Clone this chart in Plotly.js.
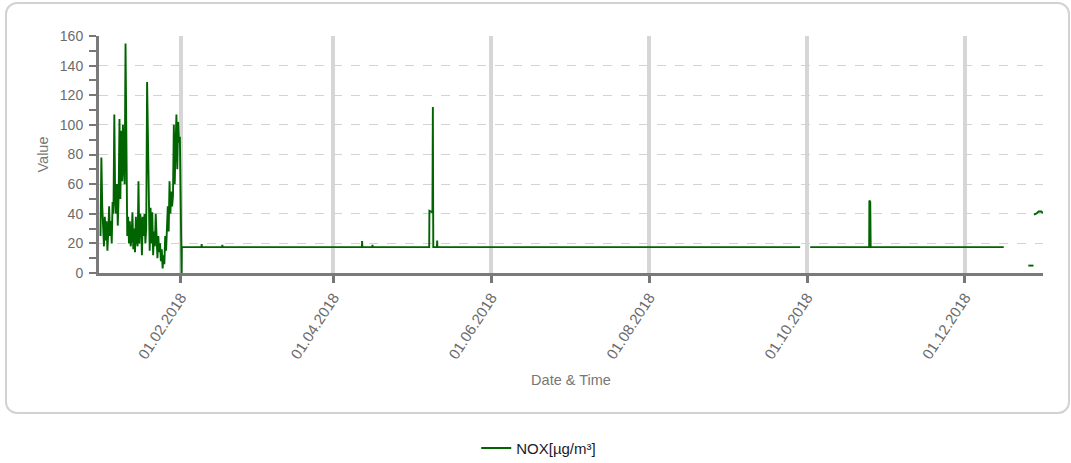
<!DOCTYPE html>
<html>
<head>
<meta charset="utf-8">
<script src="https://cdn.plot.ly/plotly-3.0.1.min.js"></script>
<style>
  html, body { margin: 0; padding: 0; background: #ffffff; }
  #wrap { position: relative; width: 1071px; height: 463px; }
  #frame { position: absolute; left: 5px; top: 2px; width: 1061px; height: 408px;
           border: 2px solid #d2d2d2; border-radius: 12px; pointer-events: none; }
  #chart { position: absolute; left: 0; top: 0; width: 1071px; height: 463px; }
</style>
</head>
<body>
<div id="wrap">
  <div id="frame"></div>
  <div id="chart"></div>
</div>
<script>
// ---- Data ----
const seriesName = 'NOX[µg/m³]';

// January 2018: readings every 8 hours starting 2018-01-01 00:00
const janStart = '2018-01-01T00:00:00';
const janStepHours = 8;
const janValues = [
  25, 78, 45,   30, 18, 38,   22, 35, 15,   28, 45, 25,   35, 20, 48,
  40, 107, 50,  40, 60, 32,   52, 104, 50,  96, 62, 100,  70, 60, 155,
  48, 25, 38,   20, 35, 18,   24, 41, 16,   30, 14, 38,   22, 18, 62,
  20, 40, 35,   12, 38, 25,   40, 20, 30,   129, 81, 25,  15, 44, 20,
  41, 12, 28,   18, 40, 22,   10, 25, 14,   20, 8, 16,    3, 12, 6,
  25, 15, 30,   45, 28, 62,   40, 55, 45,   52, 100, 60,  85, 107, 70,
  102, 88, 92
];

// Rest of the year: readings at the times where the value changes
const restDates = [
  '2018-02-01 08:00', '2018-02-01 10:00',
  '2018-02-09 00:00', '2018-02-09 02:00', '2018-02-09 04:00',
  '2018-02-17 00:00', '2018-02-17 02:00', '2018-02-17 04:00',
  '2018-04-12 00:00', '2018-04-12 02:00', '2018-04-12 04:00',
  '2018-04-16 00:00', '2018-04-16 02:00', '2018-04-16 04:00',
  '2018-05-08 00:00', '2018-05-08 02:00', '2018-05-09 06:00', '2018-05-09 10:00', '2018-05-09 14:00',
  '2018-05-11 00:00', '2018-05-11 02:00', '2018-05-11 04:00',
  '2018-09-28 08:00', '2018-09-28 09:00', '2018-10-02 05:00',
  '2018-10-25 00:00', '2018-10-25 02:00', '2018-10-25 10:00', '2018-10-25 14:00',
  '2018-12-16 00:00', '2018-12-16 01:00',
  '2018-12-25 12:00', '2018-12-27 12:00', '2018-12-27 14:00',
  '2018-12-27 16:00', '2018-12-28 12:00', '2018-12-29 12:00', '2018-12-30 12:00', '2018-12-31 03:00'
];
const restValues = [
  0, 17.5,
  17.5, 19.5, 17.5,
  17.5, 19, 17.5,
  17.5, 21.5, 17.5,
  17.5, 19, 17.5,
  17.5, 42, 41, 112, 17.5,
  17.5, 22, 17.5,
  17.5, null, 17.5,
  17.5, 49, 48, 17.5,
  17.5, null,
  5, 5, null,
  39.5, 40, 41.5, 41.5, 40.5
];

const tickDates = ['2018-02-01', '2018-04-01', '2018-06-01', '2018-08-01', '2018-10-01', '2018-12-01'];
const xRange = ['2017-12-31 10:00', '2018-12-31 04:00'];
const yTicks = [0, 20, 40, 60, 80, 100, 120, 140, 160];

// ---- Build the series ----
const xs = [], ys = [];
const t0 = new Date(janStart + 'Z').getTime();
janValues.forEach((v, i) => {
  const d = new Date(t0 + i * janStepHours * 3600 * 1000);
  xs.push(d.toISOString().slice(0, 16).replace('T', ' '));
  ys.push(v);
});
restDates.forEach((d, i) => { xs.push(d); ys.push(restValues[i]); });

const font = 'Liberation Sans, Arial, sans-serif';

const trace = {
  type: 'scatter', mode: 'lines', name: seriesName,
  x: xs, y: ys, connectgaps: false,
  line: { color: '#006400', width: 1.9 }
};

const layout = {
  width: 1071, height: 463,
  margin: { l: 99, r: 28, t: 36, b: 190 },
  paper_bgcolor: 'rgba(0,0,0,0)', plot_bgcolor: 'rgba(0,0,0,0)',
  font: { family: font, size: 14, color: '#6b6b6b' },
  showlegend: true,
  legend: { orientation: 'h', xref: 'container', yref: 'container',
            x: 0.503, xanchor: 'center', y: 0.032, yanchor: 'middle',
            font: { family: font, size: 15, color: '#1a1a2a' } },
  xaxis: {
    type: 'date', range: xRange, tickmode: 'array', tickvals: tickDates,
    tickformat: '%d.%m.%Y', tickangle: -57,
    ticks: 'outside', ticklen: 7, tickwidth: 3, tickcolor: '#777777',
    showline: true, linecolor: '#7a7a7a', linewidth: 3,
    showgrid: true, gridcolor: '#d6d6d6', gridwidth: 4, zeroline: false,
    tickfont: { family: font, size: 15, color: '#6b6b6b' },
    title: { text: 'Date & Time', standoff: 14, font: { family: font, size: 14.5, color: '#777777' } },
    automargin: false
  },
  yaxis: {
    range: [0, 160], tickmode: 'array', tickvals: yTicks,
    ticks: 'outside', ticklen: 7, tickwidth: 2, tickcolor: '#777777',
    ticklabelstandoff: 3,
    minor: { dtick: 10, ticks: 'outside', ticklen: 7, tickwidth: 2, tickcolor: '#777777', showgrid: false },
    showline: true, linecolor: '#7a7a7a', linewidth: 3,
    showgrid: true, gridcolor: '#d3d3d3', gridwidth: 1, griddash: 'dash', zeroline: false,
    tickfont: { family: font, size: 14, color: '#6b6b6b' },
    title: { text: 'Value', standoff: 8, font: { family: font, size: 14.5, color: '#777777' } },
    automargin: false
  }
};

Plotly.newPlot('chart', [trace], layout, { displayModeBar: false, staticPlot: true });
</script>
</body>
</html>
